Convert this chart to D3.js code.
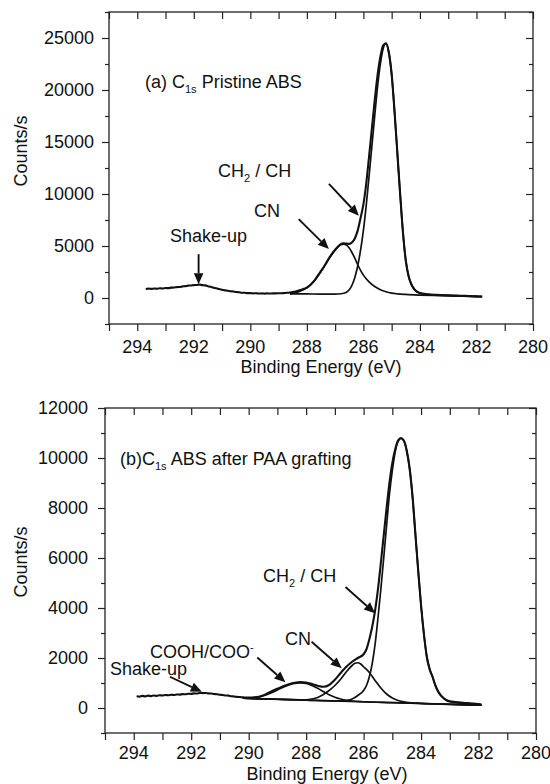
<!DOCTYPE html>
<html><head><meta charset="utf-8">
<script src="https://cdn.jsdelivr.net/npm/d3@7"></script>
<style>
body{margin:0;background:#fff}
svg{display:block}
text{font-family:"Liberation Sans",Arial,sans-serif;fill:#111}
</style>
</head><body>
<svg id="c" width="550" height="784"></svg>
<script>
// ---------- DATA (binding energy eV, counts/s) ----------
const xMajorTicks = [294, 292, 290, 288, 286, 284, 282, 280];
const xMinorTicks = [295, 293, 291, 289, 287, 285, 283, 281];
const topYMajor = [0, 5000, 10000, 15000, 20000, 25000];
const topYMinor = [-2500, 2500, 7500, 12500, 17500, 22500, 27500];
const botYMajor = [0, 2000, 4000, 6000, 8000, 10000, 12000];
const botYMinor = [-1000, 1000, 3000, 5000, 7000, 9000, 11000];

// (a) Pristine ABS
const topEnvelope = [[293.7,870],[293.6,905],[293.5,880],[293.4,915],[293.3,895],[293.2,935],[293.1,915],[293.0,955],[292.9,950],[292.8,995],[292.7,1005],[292.6,1050],[292.5,1060],[292.4,1115],[292.3,1140],[292.2,1190],[292.1,1200],[292.0,1240],[291.9,1250],[291.8,1290],[291.7,1240],[291.6,1215],[291.5,1140],[291.4,1075],[291.3,990],[291.2,940],[291.1,855],[291.0,800],[290.9,735],[290.8,700],[290.7,645],[290.6,625],[290.5,575],[290.4,555],[290.3,510],[290.2,505],[290.1,470],[290.0,470],[289.9,445],[289.8,455],[289.7,430],[289.6,440],[289.5,425],[289.4,440],[289.3,430],[289.2,445],[289.1,440],[289.0,460],[288.9,460],[288.8,480],[288.7,500],[288.6,530],[288.5,570],[288.4,630],[288.3,700],[288.2,790],[288.1,880],[288.0,1000],[287.9,1200],[287.8,1480],[287.7,1800],[287.6,2200],[287.5,2600],[287.4,3000],[287.3,3450],[287.2,3900],[287.1,4300],[287.0,4650],[286.9,4950],[286.8,5180],[286.7,5250],[286.6,5230],[286.5,5200],[286.4,5350],[286.3,5750],[286.2,6500],[286.1,7700],[286.0,9000],[285.9,11000],[285.8,13600],[285.7,16300],[285.6,19000],[285.5,21400],[285.4,23200],[285.3,24300],[285.2,24500],[285.1,23600],[285.0,21500],[284.9,18000],[284.8,14000],[284.7,10000],[284.6,6300],[284.5,3600],[284.4,2100],[284.3,1300],[284.2,850],[284.1,600],[284.0,480],[283.8,380],[283.6,330],[283.4,300],[283.2,280],[283.0,260],[282.8,240],[282.6,215],[282.4,200],[282.2,180],[282.0,160],[281.8,140]];
const topCN = [[288.6,400],[288.4,500],[288.2,700],[288.0,980],[287.8,1450],[287.6,2150],[287.4,2950],[287.2,3850],[287.0,4600],[286.9,4900],[286.8,5120],[286.7,5180],[286.6,5080],[286.5,4800],[286.4,4350],[286.3,3800],[286.2,3200],[286.1,2650],[286.0,2200],[285.8,1550],[285.6,1100],[285.4,800],[285.2,600],[285.0,470],[284.8,400],[284.5,340],[284.0,280],[283.5,240],[283.0,200],[282.5,170],[282.0,140],[281.8,130]];
const topCH = [[288.6,400],[288.0,390],[287.5,380],[287.0,380],[286.8,410],[286.6,560],[286.5,800],[286.4,1250],[286.3,2000],[286.2,3100],[286.1,4600],[286.0,6500],[285.9,8900],[285.8,11700],[285.7,14600],[285.6,17500],[285.5,20300],[285.4,22500],[285.3,24000],[285.2,24480],[285.1,23580],[285.0,21480],[284.9,17980],[284.8,13980],[284.7,9980],[284.6,6280],[284.5,3580],[284.4,2080],[284.3,1280],[284.2,830],[284.0,470],[283.8,360],[283.5,300],[283.0,250],[282.5,200],[282.0,155],[281.8,135]];

// (b) ABS after PAA grafting
const botEnvelope = [[293.9,470],[293.8,455],[293.7,485],[293.6,465],[293.5,495],[293.4,475],[293.3,500],[293.2,485],[293.1,510],[293.0,500],[292.9,520],[292.8,510],[292.7,530],[292.6,520],[292.5,540],[292.4,535],[292.3,555],[292.2,550],[292.1,570],[292.0,565],[291.9,585],[291.8,580],[291.7,600],[291.6,595],[291.5,600],[291.4,585],[291.3,580],[291.2,560],[291.1,550],[291.0,530],[290.9,520],[290.8,500],[290.7,495],[290.6,470],[290.5,460],[290.4,445],[290.3,440],[290.2,425],[290.1,420],[290.0,415],[289.9,420],[289.8,425],[289.7,440],[289.6,460],[289.5,500],[289.4,550],[289.3,610],[289.2,670],[289.0,770],[288.8,870],[288.6,950],[288.4,1010],[288.2,1040],[288.0,1020],[287.8,960],[287.6,890],[287.4,850],[287.2,920],[287.0,1130],[286.8,1400],[286.6,1650],[286.4,1850],[286.2,2000],[286.0,2150],[285.9,2350],[285.8,2750],[285.7,3250],[285.6,3900],[285.5,4750],[285.4,5800],[285.3,6900],[285.2,8000],[285.1,9000],[285.0,9800],[284.9,10350],[284.8,10700],[284.7,10800],[284.6,10700],[284.5,10300],[284.4,9600],[284.3,8500],[284.2,7000],[284.1,5500],[284.0,4100],[283.9,2950],[283.8,2050],[283.7,1550],[283.6,1250],[283.5,900],[283.4,650],[283.2,380],[283.0,270],[282.8,240],[282.6,215],[282.4,195],[282.2,175],[282.0,155],[281.9,145]];
const botCH = [[290.2,390],[289.0,350],[288.0,315],[287.0,282],[286.6,300],[286.4,360],[286.2,500],[286.0,700],[285.9,900],[285.8,1250],[285.7,1780],[285.6,2550],[285.5,3600],[285.4,4750],[285.3,6000],[285.2,7300],[285.1,8550],[285.0,9500],[284.9,10250],[284.8,10660],[284.7,10780],[284.6,10690],[284.5,10290],[284.4,9590],[284.3,8490],[284.2,6990],[284.1,5490],[284.0,4090],[283.9,2940],[283.8,2040],[283.7,1540],[283.6,1240],[283.5,890],[283.4,640],[283.2,370],[283.0,250],[282.5,185],[282.0,135],[281.9,122]];
const botCN = [[290.2,390],[289.0,350],[288.5,335],[288.0,330],[287.8,360],[287.6,420],[287.4,540],[287.2,700],[287.0,900],[286.8,1150],[286.6,1450],[286.4,1700],[286.3,1790],[286.2,1810],[286.1,1760],[286.0,1650],[285.8,1420],[285.6,1100],[285.4,800],[285.2,560],[285.0,400],[284.8,300],[284.5,230],[284.0,185],[283.0,150],[281.9,115]];
const botCOOH = [[290.2,390],[290.0,400],[289.8,420],[289.6,460],[289.4,520],[289.2,610],[289.0,720],[288.8,830],[288.6,920],[288.4,980],[288.2,1000],[288.0,980],[287.8,900],[287.6,790],[287.4,660],[287.2,530],[287.0,430],[286.8,360],[286.6,310],[286.4,280],[286.0,250],[285.0,215],[284.0,180],[283.0,147],[281.9,112]];
const botBaseline = [[290.2,390],[281.9,110]];

// Annotation arrows (from -> tip), in data units
const topArrows = [[[287.22,10970],[286.16,7910]], [[288.29,7590],[287.22,4700]], [[291.83,4215],[291.83,1320]]];
const botArrows = [[[286.63,4840],[285.6,3790]], [[287.81,2650],[286.76,1590]], [[289.7,2020],[288.72,1030]], [[292.74,1250],[291.63,650]]];

// ---------- DRAW ----------
const svg = d3.select("#c");

function panel(cfg){
  const x = d3.scaleLinear().domain([295,280]).range([cfg.left, cfg.right]);
  const y = d3.scaleLinear().domain(cfg.yDomain).range([cfg.bottom, cfg.top]);
  const g = svg.append("g");

  const mk = (axis, sc, vals, size) => axis(sc).tickValues(vals).tickSize(size).tickFormat("");
  const axes = [
    [mk(d3.axisLeft, y, cfg.yMajor, 7), `translate(${cfg.left},0)`],
    [mk(d3.axisLeft, y, cfg.yMinor, 4), `translate(${cfg.left},0)`],
    [mk(d3.axisRight, y, cfg.yMajor, -7), `translate(${cfg.right},0)`],
    [mk(d3.axisRight, y, cfg.yMinor, -4), `translate(${cfg.right},0)`],
    [mk(d3.axisBottom, x, xMajorTicks, 7), `translate(0,${cfg.bottom})`],
    [mk(d3.axisBottom, x, xMinorTicks, 7), `translate(0,${cfg.bottom})`],
    [mk(d3.axisTop, x, xMajorTicks, -7), `translate(0,${cfg.top})`],
    [mk(d3.axisTop, x, xMinorTicks, -7), `translate(0,${cfg.top})`]
  ];
  axes.forEach(([a,t]) => {
    const ag = g.append("g").attr("transform", t).call(a);
    ag.select(".domain").remove();
    ag.selectAll("line").attr("stroke","#222").attr("stroke-width",1.2);
  });
  g.append("rect").attr("x",cfg.left).attr("y",cfg.top)
    .attr("width",cfg.right-cfg.left).attr("height",cfg.bottom-cfg.top)
    .attr("fill","none").attr("stroke","#222").attr("stroke-width",1.3);

  g.selectAll(".yl").data(cfg.yMajor).join("text")
    .attr("x", cfg.left - cfg.yLabelGap).attr("y", d => y(d)).attr("dy","0.36em")
    .attr("text-anchor","end").attr("font-size",18).text(d => d);
  g.selectAll(".xl").data(xMajorTicks).join("text")
    .attr("x", d => x(d)).attr("y", cfg.bottom + cfg.xLabelOffset)
    .attr("text-anchor","middle").attr("font-size",18).text(d => d);

  g.append("text").attr("x", cfg.xTitleX).attr("y", cfg.xTitleY)
    .attr("text-anchor","middle").attr("font-size",18).text("Binding Energy (eV)");
  g.append("text").attr("transform",`translate(27,${cfg.yTitleY}) rotate(-90)`)
    .attr("text-anchor","middle").attr("font-size",18).text("Counts/s");

  const line = d3.line().x(d => x(d[0])).y(d => y(d[1])).curve(d3.curveMonotoneX);
  const clip = "clip" + cfg.id;
  svg.append("clipPath").attr("id",clip).append("rect")
    .attr("x",cfg.left).attr("y",cfg.top).attr("width",cfg.right-cfg.left).attr("height",cfg.bottom-cfg.top);
  const cg = g.append("g").attr("clip-path",`url(#${clip})`);
  cfg.components.forEach(c => {
    cg.append("path").datum(c).attr("d", line).attr("fill","none")
      .attr("stroke","#111").attr("stroke-width",1.7).attr("stroke-linejoin","round");
  });
  cg.append("path").datum(cfg.envelope).attr("d", line).attr("fill","none")
    .attr("stroke","#111").attr("stroke-width",2.1).attr("stroke-linejoin","round");

  cfg.arrows.forEach(([a,b]) => {
    const x1 = x(a[0]), y1 = y(a[1]), x2 = x(b[0]), y2 = y(b[1]);
    const ang = Math.atan2(y2-y1, x2-x1), L = 11, W = 4.8;
    const bx = x2 - L*Math.cos(ang), by = y2 - L*Math.sin(ang);
    g.append("line").attr("x1",x1).attr("y1",y1).attr("x2",bx).attr("y2",by)
      .attr("stroke","#111").attr("stroke-width",1.9);
    const px = -Math.sin(ang)*W, py = Math.cos(ang)*W;
    g.append("path").attr("d",`M${x2},${y2}L${bx+px},${by+py}L${bx-px},${by-py}Z`).attr("fill","#111");
  });
  return g;
}

function richText(g, xPos, yPos, parts){
  const t = g.append("text").attr("x",xPos).attr("y",yPos).attr("font-size",18);
  parts.forEach(p => {
    const s = t.append("tspan").text(p.t);
    if (p.sub) s.attr("font-size",11).attr("dy",5);
    else if (p.sup) s.attr("font-size",11).attr("dy",-7);
    else if (p.back) s.attr("dy",p.back);
  });
  return t;
}

const gTop = panel({
  id:"a", left:109, right:533, top:12, bottom:324, yDomain:[-2500,27500],
  yMajor: topYMajor, yMinor: topYMinor, yLabelGap:15, xLabelOffset:29,
  xTitleX:321, xTitleY:373, yTitleY:151,
  envelope: topEnvelope, components:[topCN, topCH], arrows: topArrows
});
richText(gTop, 145, 88, [{t:"(a) C"},{t:"1s",sub:true},{t:" Pristine ABS",back:-5}]);
richText(gTop, 218, 177, [{t:"CH"},{t:"2",sub:true},{t:" / CH",back:-5}]);
richText(gTop, 254, 217, [{t:"CN"}]);
richText(gTop, 170, 242, [{t:"Shake-up"}]);

const gBot = panel({
  id:"b", left:105, right:536, top:408, bottom:733, yDomain:[-1000,12000],
  yMajor: botYMajor, yMinor: botYMinor, yLabelGap:17, xLabelOffset:26,
  xTitleX:327, xTitleY:780, yTitleY:562,
  envelope: botEnvelope, components:[botBaseline, botCOOH, botCN, botCH], arrows: botArrows
});
richText(gBot, 120, 465, [{t:"(b)C"},{t:"1s",sub:true},{t:" ABS after PAA grafting",back:-5}]);
richText(gBot, 263, 582, [{t:"CH"},{t:"2",sub:true},{t:" / CH",back:-5}]);
richText(gBot, 285, 645, [{t:"CN"}]);
richText(gBot, 150, 658, [{t:"COOH/COO"},{t:"-",sup:true}]);
richText(gBot, 110, 675, [{t:"Shake-up"}]);
</script>
</body></html>
